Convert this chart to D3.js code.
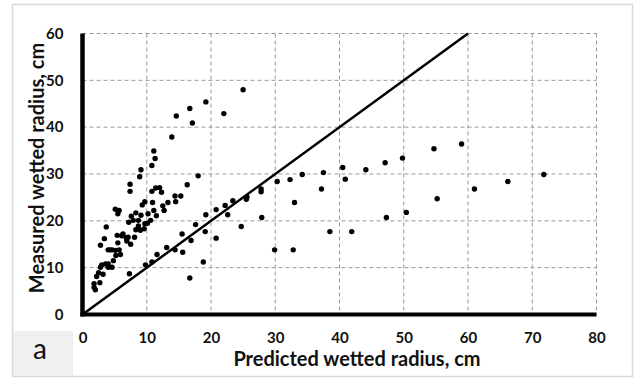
<!DOCTYPE html>
<html><head><meta charset="utf-8">
<script src="https://cdn.jsdelivr.net/npm/d3@7"></script>
<style>body{margin:0;background:#fff}svg{display:block}</style>
</head><body>
<svg id="c" width="637" height="380"></svg>
<script>
const predicted = [25,19.2,16.7,14.6,22.0,17.1,13.9,11.1,11.3,10.8,9.1,8.9,18.0,7.4,7.4,16.3,10.8,11.4,12.0,12.3,14.4,15.3,14.5,13.3,12.5,12.7,10.9,11.1,11.5,9.7,9.3,10.2,10.6,9.7,9.1,8.3,7.6,7.2,7.9,8.3,9.0,8.7,8.1,7.1,7.5,6.8,6.3,5.4,5.7,5.9,5.1,5.1,5.7,5.5,3.7,3.4,2.8,4.0,4.6,4.8,4.0,3.0,2.5,3.2,2.7,2.2,1.8,2.0,1.8,4.0,4.6,7.3,9.6,10.1,8.7,6.1,6.9,5.5,4.3,5.2,3.6,2.8,
  9.8,10.8,11.6,13.1,14.4,15.6,15.5,16.9,16.7,17.6,18.8,19.1,19.2,20.8,20.8,22.2,22.6,23.4,24.7,25.6,25.5,27.8,27.8,27.9,29.9,30.3,32.3,32.8,33.0,34.2,37.2,37.5,38.5,40.5,40.9,41.9,44.1,47.1,47.3,49.8,50.4,54.7,55.2,59.0,61.0,66.2,71.8];
const measured = [48.0,45.4,44.0,42.4,42.9,40.9,37.9,34.9,33.3,31.8,30.9,29.4,29.6,27.8,26.3,27.7,26.3,27.0,27.1,26.1,25.3,25.3,24.1,23.9,23.2,22.2,23.9,22.2,21.1,24.1,23.4,21.5,20.1,19.4,21.2,21.7,21.0,19.7,20.1,18.1,18.0,18.9,16.5,16.5,15.0,16.4,17.2,16.9,13.8,12.8,13.7,22.5,22.2,21.5,18.7,16.2,14.8,13.8,13.8,11.5,10.1,10.6,8.9,8.6,6.8,8.1,5.8,5.3,6.6,10.8,10.1,8.7,18.3,19.5,20.1,16.8,15.7,15.3,13.8,12.6,10.8,10.1,
  10.6,11.2,12.8,14.3,13.8,13.3,17.2,15.8,7.8,19.2,11.2,17.7,21.3,16.3,22.4,23.3,21.3,24.3,18.8,25.1,24.6,26.8,26.2,20.7,13.8,28.4,28.8,13.8,23.9,29.9,26.8,30.3,17.7,31.4,28.9,17.7,30.9,32.4,20.7,33.4,21.8,35.4,24.7,36.4,26.8,28.4,29.9];
const xTicks = [0,10,20,30,40,50,60,70,80];
const yTicks = [0,10,20,30,40,50,60];
const lineEnds = [0,60];

const svg = d3.select("#c");
const x = d3.scaleLinear().domain([0,80]).range([82.5,596.5]);
const y = d3.scaleLinear().domain([0,60]).range([314.5,33.5]);
const F = "Lato, 'Liberation Sans', sans-serif";

// outer frame
svg.append("rect").attr("x",12.5).attr("y",4.5).attr("width",620).attr("height",372)
  .attr("fill","#fff").attr("stroke","#d9d9d9").attr("stroke-width",1.5);
// label box
svg.append("rect").attr("x",13).attr("y",331).attr("width",60).attr("height",45).attr("fill","#f0f0f0");
svg.append("text").attr("x",40).attr("y",359).attr("text-anchor","middle")
  .attr("font-family",F).attr("font-size",28).attr("fill","#111").text("a");

// grid
const grid = svg.append("g").attr("stroke","#999").attr("stroke-width",1).attr("stroke-dasharray","4,3");
grid.selectAll("line.v").data(xTicks.slice(1)).enter().append("line")
  .attr("x1",d=>x(d)).attr("x2",d=>x(d)).attr("y1",y(60)).attr("y2",y(0));
grid.selectAll("line.h").data(yTicks.slice(1)).enter().append("line")
  .attr("x1",x(0)).attr("x2",x(80)).attr("y1",d=>y(d)).attr("y2",d=>y(d));

// axes labels via d3 axes
const ax = svg.append("g").attr("transform",`translate(0,${y(0)})`)
  .call(d3.axisBottom(x).tickValues(xTicks).tickSize(0).tickPadding(18));
const ay = svg.append("g").attr("transform",`translate(${x(0)},0)`)
  .call(d3.axisLeft(y).tickValues(yTicks).tickSize(0).tickPadding(19));
[ax,ay].forEach(a=>{a.select(".domain").remove();
  a.selectAll("text").attr("font-family",F).attr("font-weight","bold").attr("font-size",15).attr("fill","#111");});

// 1:1 line
svg.append("line").attr("x1",x(lineEnds[0])).attr("y1",y(lineEnds[0])).attr("x2",x(lineEnds[1])).attr("y2",y(lineEnds[1]))
  .attr("stroke","#000").attr("stroke-width",2.5);

// points
svg.append("g").selectAll("circle").data(predicted.map((p,i)=>[p,measured[i]])).enter().append("circle")
  .attr("cx",d=>x(d[0])).attr("cy",d=>y(d[1])).attr("r",2.7).attr("fill","#000");

// axis lines
svg.append("line").attr("x1",x(0)).attr("x2",x(0)).attr("y1",y(60)).attr("y2",y(0)+2).attr("stroke","#000").attr("stroke-width",4.5);
svg.append("line").attr("x1",x(0)-2).attr("x2",x(80)).attr("y1",y(0)).attr("y2",y(0)).attr("stroke","#000").attr("stroke-width",4);

// titles
svg.append("text").attr("x",357).attr("y",366).attr("text-anchor","middle")
  .attr("font-family",F).attr("font-weight","bold").attr("font-size",20).attr("fill","#111")
  .text("Predicted wetted radius, cm");
svg.append("text").attr("transform","translate(44,168) rotate(-90)").attr("text-anchor","middle")
  .attr("font-family",F).attr("font-weight","bold").attr("font-size",20).attr("fill","#111")
  .text("Measured wetted radius, cm");
</script>
</body></html>
